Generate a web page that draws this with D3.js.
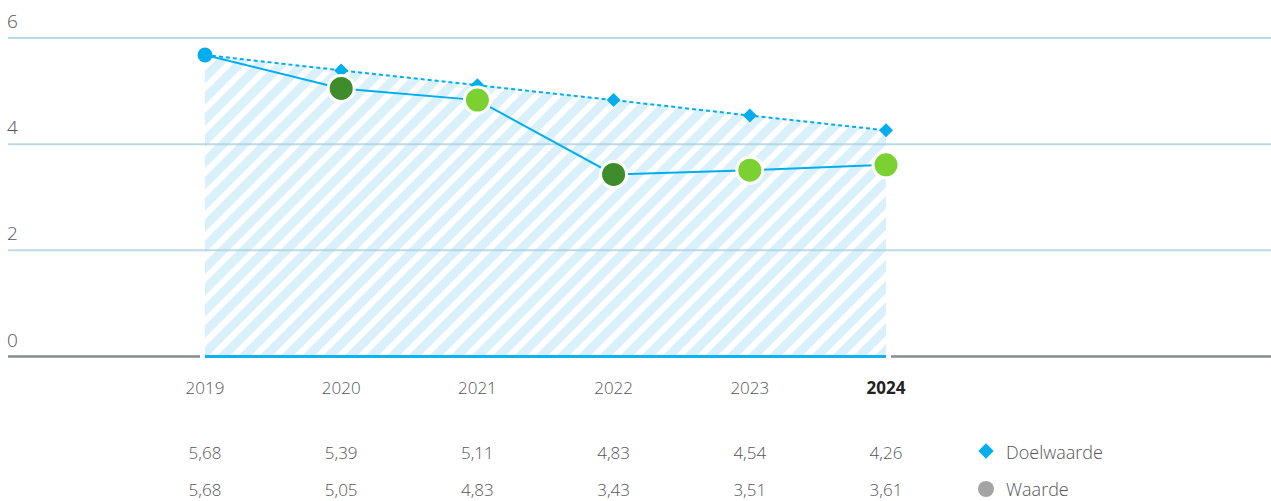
<!DOCTYPE html>
<html><head><meta charset="utf-8">
<script src="https://cdn.jsdelivr.net/npm/d3@7"></script>
<style>body{margin:0;background:#fff;} text{font-family:"Open Sans",Lato,sans-serif;font-weight:300;}</style>
</head><body><svg id="c" width="1271" height="501"></svg>
<script>
const years = ["2019","2020","2021","2022","2023","2024"];
const doelwaarde = [5.68,5.39,5.11,4.83,4.54,4.26];
const waarde = [5.68,5.05,4.83,3.43,3.51,3.61];
const doelLabels = ["5,68","5,39","5,11","4,83","4,54","4,26"];
const waardeLabels = ["5,68","5,05","4,83","3,43","3,51","3,61"];
const pointColors = ["#00aeef","#3f8c2c","#7bd131","#3f8c2c","#7bd131","#7bd131"];
const yTicks = [0,2,4,6];

const svg = d3.select("#c");
const x = d3.scalePoint().domain(years).range([205,886]);
const y = d3.scaleLinear().domain([0,6]).range([356.5,38]);

const defs = svg.append("defs");
const pat = defs.append("pattern").attr("id","hatch").attr("patternUnits","userSpaceOnUse")
  .attr("width",15).attr("height",15).attr("patternTransform","rotate(45)");
pat.append("rect").attr("width",9).attr("height",15).attr("fill","#daf1fb");

// area
const area = d3.area().x((d,i)=>x(years[i])).y0(y(0)).y1(d=>y(d));
svg.append("path").datum(doelwaarde).attr("d",area).attr("fill","url(#hatch)");

// gridlines
svg.append("g").selectAll("line").data(yTicks.filter(d=>d>0)).join("line")
  .attr("x1",8).attr("x2",1271).attr("y1",d=>y(d)).attr("y2",d=>y(d))
  .attr("stroke","#a9d2e0").attr("stroke-opacity",0.8).attr("stroke-width",2);
svg.append("g").selectAll("text").data(yTicks).join("text")
  .attr("x",7).attr("y",d=>y(d)-10).text(d=>d)
  .attr("font-size",19).attr("fill","#555");

// baseline
svg.append("line").attr("x1",8).attr("x2",1271).attr("y1",y(0)).attr("y2",y(0))
  .attr("stroke","#888d90").attr("stroke-width",2.5);
svg.append("line").attr("x1",x("2019")-5).attr("x2",x("2024")+5).attr("y1",y(0)).attr("y2",y(0))
  .attr("stroke","#fff").attr("stroke-width",3);
svg.append("line").attr("x1",x("2019")).attr("x2",x("2024")).attr("y1",y(0)).attr("y2",y(0))
  .attr("stroke","#12b0f0").attr("stroke-width",3);

// lines
const line = d3.line().x((d,i)=>x(years[i])).y(d=>y(d));
svg.append("path").datum(doelwaarde).attr("d",line).attr("fill","none")
  .attr("stroke","#00aeef").attr("stroke-width",2).attr("stroke-dasharray","4,3");
svg.append("path").datum(waarde).attr("d",line).attr("fill","none")
  .attr("stroke","#00aeef").attr("stroke-width",2);

// diamonds
const dia = d3.symbol().type(d3.symbolDiamond2).size(125);
svg.append("g").selectAll("path").data(doelwaarde).join("path")
  .attr("d",dia)
  .attr("transform",(d,i)=>`translate(${x(years[i])},${y(d)})`)
  .attr("fill","#00aeef");

// circles
svg.append("g").selectAll("circle").data(waarde).join("circle")
  .attr("cx",(d,i)=>x(years[i])).attr("cy",d=>y(d))
  .attr("r",(d,i)=>i===0?7.5:13)
  .attr("fill",(d,i)=>pointColors[i])
  .attr("stroke","#fff").attr("stroke-width",(d,i)=>i===0?0:3);

// year labels
svg.append("g").selectAll("text").data(years).join("text")
  .attr("x",d=>x(d)).attr("y",394).attr("text-anchor","middle")
  .attr("font-size",17).style("font-weight",(d,i)=>i===5?"bold":"300")
  .attr("fill",(d,i)=>i===5?"#222":"#555").text(d=>d);

// table rows
svg.append("g").selectAll("text").data(doelLabels).join("text")
  .attr("x",(d,i)=>x(years[i])).attr("y",459).attr("text-anchor","middle")
  .attr("font-size",17).attr("fill","#555").text(d=>d);
svg.append("g").selectAll("text").data(waardeLabels).join("text")
  .attr("x",(d,i)=>x(years[i])).attr("y",496).attr("text-anchor","middle")
  .attr("font-size",17).attr("fill","#555").text(d=>d);

// legend
svg.append("path").attr("d",d3.symbol().type(d3.symbolDiamond2).size(150))
  .attr("transform","translate(986,451)").attr("fill","#00aeef");
svg.append("circle").attr("cx",986).attr("cy",489).attr("r",8).attr("fill","#a4a4a4");
svg.append("text").attr("x",1006).attr("y",459).attr("font-size",18).attr("fill","#555").text("Doelwaarde");
svg.append("text").attr("x",1006).attr("y",496).attr("font-size",18).attr("fill","#555").text("Waarde");
</script></body></html>
